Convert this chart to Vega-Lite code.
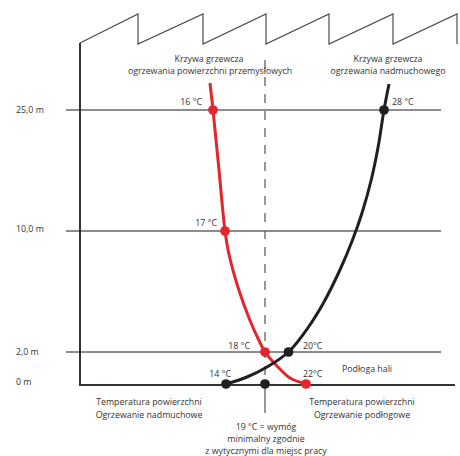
{
  "$schema": "https://vega.github.io/schema/vega-lite/v6.json",
  "width": 460,
  "height": 456,
  "autosize": {"type": "fit", "contains": "padding"},
  "padding": 0,
  "background": "white",
  "config": {"view": {"stroke": null}, "text": {"font": "Open Sans", "fontSize": 8.8, "color": "#333333"}},
  "datasets": {
    "roof": [
      {"i": 0, "x": 80, "y": 43}, {"i": 1, "x": 138, "y": 14}, {"i": 2, "x": 138, "y": 44},
      {"i": 3, "x": 203, "y": 14}, {"i": 4, "x": 203, "y": 44}, {"i": 5, "x": 266, "y": 14},
      {"i": 6, "x": 266, "y": 44}, {"i": 7, "x": 329, "y": 14}, {"i": 8, "x": 329, "y": 44},
      {"i": 9, "x": 393, "y": 14}, {"i": 10, "x": 393, "y": 44}, {"i": 11, "x": 457, "y": 14},
      {"i": 12, "x": 457, "y": 44}
    ],
    "structure": [
      {"x": 80, "y": 43, "x2": 80, "y2": 385},
      {"x": 79, "y": 385, "x2": 455, "y2": 385}
    ],
    "levels": [
      {"level": "25,0 m", "x": 66, "x2": 441, "y": 110},
      {"level": "10,0 m", "x": 66, "x2": 441, "y": 231},
      {"level": "2,0 m", "x": 66, "x2": 441, "y": 352}
    ],
    "levelLabels": [
      {"text": "25,0 m", "x": 16, "y": 110},
      {"text": "10,0 m", "x": 16, "y": 229},
      {"text": "2,0 m", "x": 16, "y": 352},
      {"text": "0 m", "x": 16, "y": 382}
    ],
    "curves": [
      {"series": "red", "x": 210, "y": 83},
      {"series": "red", "x": 213, "y": 110},
      {"series": "red", "x": 219, "y": 170},
      {"series": "red", "x": 225, "y": 231},
      {"series": "red", "x": 228.7, "y": 253},
      {"series": "red", "x": 237.9, "y": 287},
      {"series": "red", "x": 249.8, "y": 320},
      {"series": "red", "x": 260.2, "y": 343},
      {"series": "red", "x": 265, "y": 352},
      {"series": "red", "x": 277, "y": 366},
      {"series": "red", "x": 290, "y": 378},
      {"series": "red", "x": 306, "y": 384},
      {"series": "black", "x": 226, "y": 384},
      {"series": "black", "x": 247, "y": 377},
      {"series": "black", "x": 267, "y": 367},
      {"series": "black", "x": 288.5, "y": 352},
      {"series": "black", "x": 308.5, "y": 327},
      {"series": "black", "x": 323.4, "y": 303},
      {"series": "black", "x": 339.9, "y": 270},
      {"series": "black", "x": 352.5, "y": 240},
      {"series": "black", "x": 362, "y": 213},
      {"series": "black", "x": 371.2, "y": 180},
      {"series": "black", "x": 378.1, "y": 147},
      {"series": "black", "x": 384, "y": 110},
      {"series": "black", "x": 389, "y": 84}
    ],
    "points": [
      {"series": "red", "t": "16 °C", "x": 213, "y": 110},
      {"series": "red", "t": "17 °C", "x": 225, "y": 231},
      {"series": "red", "t": "18 °C", "x": 265, "y": 352},
      {"series": "red", "t": "22°C", "x": 306, "y": 384},
      {"series": "black", "t": "14 °C", "x": 226, "y": 384},
      {"series": "black", "t": "19 °C", "x": 265, "y": 384},
      {"series": "black", "t": "20°C", "x": 288.5, "y": 352},
      {"series": "black", "t": "28 °C", "x": 384, "y": 110}
    ],
    "textCenter": [
      {"text": "Krzywa grzewcza", "x": 209, "y": 59},
      {"text": "ogrzewania powierzchni przemysłowych", "x": 210, "y": 71},
      {"text": "Krzywa grzewcza", "x": 388, "y": 59},
      {"text": "ogrzewania nadmuchowego", "x": 388, "y": 71},
      {"text": "Podłoga hali", "x": 367, "y": 369},
      {"text": "Temperatura powierzchni", "x": 149, "y": 402},
      {"text": "Ogrzewanie nadmuchowe", "x": 149, "y": 415},
      {"text": "Temperatura powierzchni", "x": 362, "y": 402},
      {"text": "Ogrzewanie podłogowe", "x": 362, "y": 415},
      {"text": "19 °C = wymóg", "x": 266, "y": 427},
      {"text": "minimalny zgodnie", "x": 266, "y": 439},
      {"text": "z wytycznymi dla miejsc pracy", "x": 266, "y": 451}
    ],
    "textRight": [
      {"text": "16 °C", "x": 202, "y": 102},
      {"text": "17 °C", "x": 217, "y": 223},
      {"text": "18 °C", "x": 250, "y": 346},
      {"text": "14 °C", "x": 231, "y": 374}
    ],
    "textLeft": [
      {"text": "28 °C", "x": 392, "y": 102},
      {"text": "20°C", "x": 303, "y": 346},
      {"text": "22°C", "x": 303, "y": 374}
    ]
  },
  "encoding": {
    "x": {"field": "x", "type": "quantitative", "scale": {"domain": [0, 460], "nice": false, "zero": false}, "axis": null},
    "y": {"field": "y", "type": "quantitative", "scale": {"domain": [0, 456], "nice": false, "zero": false, "reverse": true}, "axis": null}
  },
  "layer": [
    {
      "data": {"name": "roof"},
      "mark": {"type": "line", "stroke": "#4a4a4a", "strokeWidth": 1.2},
      "encoding": {"order": {"field": "i", "type": "quantitative"}}
    },
    {
      "data": {"name": "structure"},
      "mark": {"type": "rule", "stroke": "#333333", "strokeWidth": 2},
      "encoding": {"x2": {"field": "x2"}, "y2": {"field": "y2"}}
    },
    {
      "data": {"name": "levels"},
      "mark": {"type": "rule", "stroke": "#1a1a1a", "strokeWidth": 1},
      "encoding": {"x2": {"field": "x2"}}
    },
    {
      "data": {"values": [{"x": 265, "y": 60, "y2": 384}]},
      "mark": {"type": "rule", "stroke": "#6d6d6d", "strokeWidth": 1.4, "strokeDash": [9, 8]},
      "encoding": {"y2": {"field": "y2"}}
    },
    {
      "data": {"values": [{"x": 265, "y": 384, "y2": 413}]},
      "mark": {"type": "rule", "stroke": "#6d6d6d", "strokeWidth": 1.4},
      "encoding": {"y2": {"field": "y2"}}
    },
    {
      "data": {"name": "levelLabels"},
      "mark": {"type": "text", "align": "left", "baseline": "middle"},
      "encoding": {"text": {"field": "text"}}
    },
    {
      "data": {"name": "curves"},
      "mark": {"type": "line", "strokeWidth": 3, "interpolate": "catmull-rom"},
      "encoding": {
        "detail": {"field": "series"},
        "color": {"field": "series", "type": "nominal", "scale": {"domain": ["red", "black"], "range": ["#e5242b", "#231f20"]}, "legend": null}
      }
    },
    {
      "data": {"name": "points"},
      "mark": {"type": "circle", "size": 95, "opacity": 1},
      "encoding": {
        "color": {"field": "series", "type": "nominal", "scale": {"domain": ["red", "black"], "range": ["#e5242b", "#231f20"]}, "legend": null}
      }
    },
    {
      "data": {"name": "textCenter"},
      "mark": {"type": "text", "align": "center", "baseline": "middle"},
      "encoding": {"text": {"field": "text"}}
    },
    {
      "data": {"name": "textRight"},
      "mark": {"type": "text", "align": "right", "baseline": "middle"},
      "encoding": {"text": {"field": "text"}}
    },
    {
      "data": {"name": "textLeft"},
      "mark": {"type": "text", "align": "left", "baseline": "middle"},
      "encoding": {"text": {"field": "text"}}
    }
  ]
}
